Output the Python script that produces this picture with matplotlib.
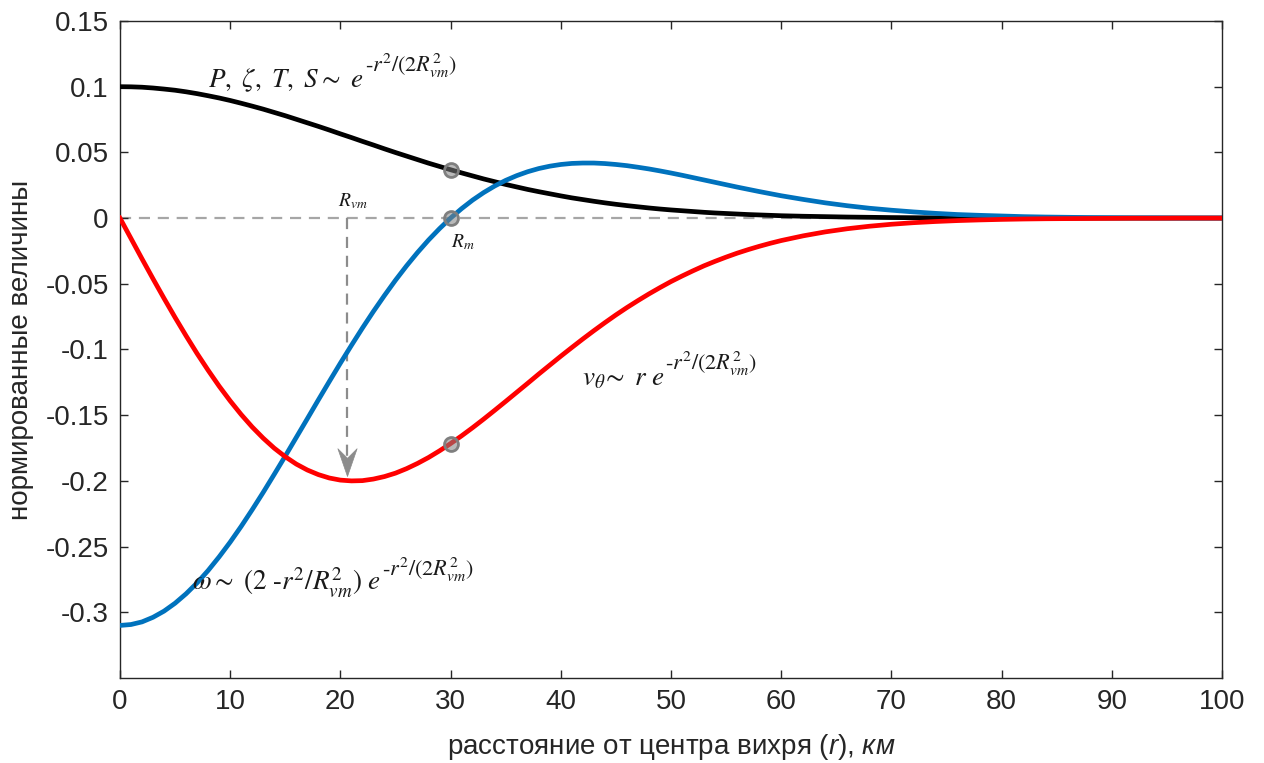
import matplotlib
matplotlib.use("Agg")
import matplotlib.pyplot as plt
from matplotlib.path import Path

# distance from vortex centre, km (1 km step to 60, then 2 km)
r_km = list(range(0, 61)) + list(range(62, 101, 2))

# P, zeta, T, S (black)
p_vals = [0.1000, 0.0999, 0.0996, 0.0990, 0.0982, 0.0973, 0.0961, 0.0947, 0.0931, 0.0914,
          0.0895, 0.0874, 0.0852, 0.0829, 0.0804, 0.0779, 0.0752, 0.0725, 0.0698, 0.0670,
          0.0641, 0.0613, 0.0584, 0.0556, 0.0527, 0.0499, 0.0472, 0.0445, 0.0418, 0.0393,
          0.0368, 0.0344, 0.0321, 0.0298, 0.0277, 0.0256, 0.0237, 0.0218, 0.0201, 0.0185,
          0.0169, 0.0154, 0.0141, 0.0128, 0.0116, 0.0105, 0.0095, 0.0086, 0.0077, 0.0069,
          0.0062, 0.0056, 0.0050, 0.0044, 0.0039, 0.0035, 0.0031, 0.0027, 0.0024, 0.0021,
          0.0018,
          0.0014, 0.0011, 0.0008, 0.0006, 0.0004, 0.0003, 0.0002, 0.0002, 0.0001, 0.0001,
          0.0, 0.0, 0.0, 0.0, 0.0, 0.0, 0.0, 0.0, 0.0, 0.0]

# v_theta (red)
v_vals = [0.0, -0.0155, -0.0310, -0.0462, -0.0611, -0.0756, -0.0896, -0.1031, -0.1158, -0.1279,
          -0.1391, -0.1495, -0.1590, -0.1675, -0.1751, -0.1816, -0.1872, -0.1917, -0.1952, -0.1978,
          -0.1994, -0.2000, -0.1998, -0.1986, -0.1967, -0.1941, -0.1907, -0.1867, -0.1822, -0.1771,
          -0.1716, -0.1657, -0.1595, -0.1530, -0.1463, -0.1395, -0.1326, -0.1257, -0.1187, -0.1119,
          -0.1051, -0.0985, -0.0920, -0.0857, -0.0796, -0.0737, -0.0681, -0.0628, -0.0577, -0.0529,
          -0.0483, -0.0441, -0.0401, -0.0363, -0.0329, -0.0297, -0.0267, -0.0240, -0.0215, -0.0192,
          -0.0171,
          -0.0135, -0.0105, -0.0081, -0.0062, -0.0047, -0.0035, -0.0026, -0.0019, -0.0014, -0.0010,
          -0.0007, -0.0005, -0.0004, -0.0003, -0.0002, -0.0001, -0.0001, 0.0, 0.0, 0.0]

# omega (blue)
w_vals = [-0.3100, -0.3093, -0.3073, -0.3038, -0.2991, -0.2931, -0.2859, -0.2776, -0.2682, -0.2578,
          -0.2466, -0.2346, -0.2219, -0.2087, -0.1950, -0.1811, -0.1669, -0.1527, -0.1384, -0.1243,
          -0.1104, -0.0969, -0.0837, -0.0710, -0.0589, -0.0473, -0.0364, -0.0262, -0.0167, -0.0080,
          0.0, 0.0072, 0.0137, 0.0194, 0.0244, 0.0287, 0.0323, 0.0353, 0.0377, 0.0395,
          0.0408, 0.0416, 0.0419, 0.0419, 0.0415, 0.0408, 0.0399, 0.0387, 0.0374, 0.0359,
          0.0343, 0.0326, 0.0308, 0.0290, 0.0272, 0.0254, 0.0236, 0.0219, 0.0202, 0.0186,
          0.0170,
          0.0142, 0.0116, 0.0094, 0.0075, 0.0060, 0.0047, 0.0036, 0.0027, 0.0021, 0.0016,
          0.0011, 0.0008, 0.0006, 0.0004, 0.0003, 0.0002, 0.0002, 0.0001, 0.0001, 0.0001]

# marked points at r = 30 km
mark_r = [30, 30, 30]
mark_y = [0.0368, 0.0, -0.1716]

# R_vm arrow
rvm_x = 20.6
rvm_y0 = 0.0
rvm_y1 = -0.196

x_ticks = [0, 10, 20, 30, 40, 50, 60, 70, 80, 90, 100]
y_ticks = [-0.3, -0.25, -0.2, -0.15, -0.1, -0.05, 0, 0.05, 0.1, 0.15]
y_ticklabels = ["-0.3", "-0.25", "-0.2", "-0.15", "-0.1", "-0.05", "0", "0.05", "0.1", "0.15"]

plt.rcParams["font.family"] = ["Liberation Sans", "DejaVu Sans"]
plt.rcParams["mathtext.fontset"] = "custom"
plt.rcParams["mathtext.rm"] = "Liberation Sans"
plt.rcParams["mathtext.it"] = "Liberation Sans:italic"

axis_col = "#262626"
arrow_col = "#8c8c8c"

fig = plt.figure(figsize=(12.64, 7.63), dpi=100)
ax = fig.add_axes([0.0949, 0.1114, 0.8719, 0.8611])

ax.plot([0, 100], [0, 0], ls=(0, (5, 3.5)), color="#a6a6a6", lw=1.6, zorder=1)
ax.plot(r_km, p_vals, color="black", lw=3.4, zorder=3)
ax.plot(r_km, w_vals, color="#0072bd", lw=3.4, zorder=3)
ax.plot(r_km, v_vals, color="#ff0000", lw=3.4, zorder=3)

# dashed shaft + notched head (MATLAB-like "vback") for the R_vm arrow
ax.plot([rvm_x, rvm_x], [rvm_y0, rvm_y1 + 0.01], ls=(0, (5, 3.5)), color=arrow_col,
        lw=1.6, zorder=2)
head = Path([(0, 0), (-0.45, 1.3), (0, 0.85), (0.45, 1.3), (0, 0)],
            [Path.MOVETO, Path.LINETO, Path.LINETO, Path.LINETO, Path.CLOSEPOLY])
ax.plot([rvm_x], [rvm_y1], marker=head, ms=40, color=arrow_col, mec=arrow_col,
        mew=0.5, ls="none", zorder=2)

ax.plot(mark_r, mark_y, ls="none", marker="o", ms=10, mfc=(0.5, 0.5, 0.5, 0.55),
        mec="#7f7f7f", mew=2, zorder=4)

serif = dict(math_fontfamily="stix", color="#1a1a1a")
exp_str = r"$\text{-}r^2/(2R^2_{vm})$"


def label_with_exp(x, y, main):
    # main part, then a larger exponent hung off its right edge
    t = ax.text(x, y, main, fontsize=19.5, va="baseline", **serif)
    ax.annotate(exp_str, xy=(1.0, y), xycoords=(t, "data"), xytext=(1, 11),
                textcoords="offset points", fontsize=16, va="baseline", **serif)


label_with_exp(8.0, 0.0997, r"$P,\ \zeta,\ T,\ S \sim\ e$")
label_with_exp(41.9, -0.127, r"$v_{\theta}\!\sim\ r\ e$")
label_with_exp(6.5, -0.2835, r"$\omega \sim\ (2\ \text{-}r^2/R^2_{vm})\ e$")
ax.text(19.8, 0.0055, r"$R_{vm}$", fontsize=14, ha="left", va="bottom", **serif)
ax.text(30.0, -0.011, r"$R_m$", fontsize=14, ha="left", va="top", **serif)

ax.set_xlim(0, 100)
ax.set_ylim(-0.35, 0.15)
ax.set_xticks(x_ticks)
ax.set_yticks(y_ticks)
ax.set_yticklabels(y_ticklabels)
ax.tick_params(direction="in", length=6, width=1, colors=axis_col, labelsize=20,
               top=True, right=True, pad=8)
for s in ax.spines.values():
    s.set_color(axis_col)
    s.set_linewidth(1)

ax.set_xlabel(r"расстояние от центра вихря ($\mathit{r}$), $\mathit{км}$", fontsize=20,
              color=axis_col, labelpad=12)
ax.set_ylabel("нормированные величины", fontsize=20, color=axis_col, labelpad=8)

fig.savefig("out.png", dpi=100)
